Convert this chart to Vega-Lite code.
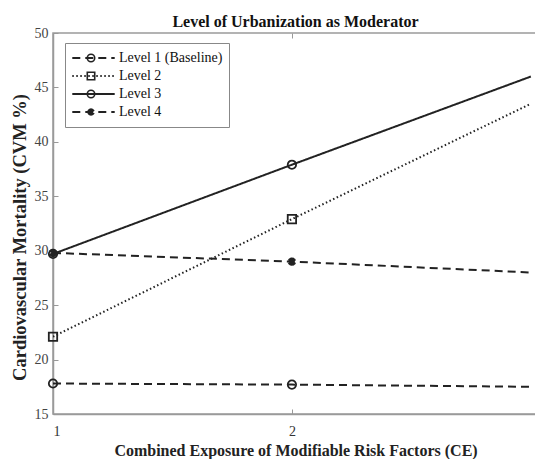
{
  "$schema": "https://vega.github.io/schema/vega-lite/v6.json",
  "width": 485,
  "height": 381,
  "autosize": "none",
  "padding": {"left": 53, "top": 33, "right": 0, "bottom": 45},
  "background": "white",
  "title": {"text": "Level of Urbanization as Moderator", "font": "Liberation Serif", "fontSize": 16, "fontWeight": "bold", "color": "#111", "offset": 2, "dy": 6, "anchor": "middle"},
  "config": {
    "view": {"stroke": "#9a9a9a", "strokeWidth": 1.5},
    "font": "Liberation Serif"
  },
  "data": {"values": [
    {"level": "Level 1 (Baseline)", "ce": 1, "cvm": 17.8},
    {"level": "Level 1 (Baseline)", "ce": 2, "cvm": 17.7},
    {"level": "Level 1 (Baseline)", "ce": 3, "cvm": 17.5},
    {"level": "Level 2", "ce": 1, "cvm": 22.1},
    {"level": "Level 2", "ce": 2, "cvm": 32.9},
    {"level": "Level 2", "ce": 3, "cvm": 43.5},
    {"level": "Level 3", "ce": 1, "cvm": 29.7},
    {"level": "Level 3", "ce": 2, "cvm": 37.9},
    {"level": "Level 3", "ce": 3, "cvm": 46.0},
    {"level": "Level 4", "ce": 1, "cvm": 29.8},
    {"level": "Level 4", "ce": 2, "cvm": 29.0},
    {"level": "Level 4", "ce": 3, "cvm": 28.0}
  ]},
  "resolve": {"axis": {"x": "independent"}},
  "layer": [
    {
      "mark": {"type": "line", "strokeWidth": 2, "color": "#222", "clip": true},
      "encoding": {
        "x": {"field": "ce", "type": "quantitative", "scale": {"domain": [1, 3.03], "nice": false},
          "axis": {"orient": "bottom", "values": [1, 2], "format": "d", "tickSize": -5, "tickColor": "#999", "domainColor": "#9a9a9a", "domainWidth": 1.5, "grid": false,
            "labelFont": "Liberation Serif", "labelFontSize": 14, "labelColor": "#333", "labelPadding": 15,
            "title": "Combined Exposure of Modifiable Risk Factors (CE)", "titleFont": "Liberation Serif", "titleFontSize": 16, "titleFontWeight": "bold", "titleColor": "#222", "titlePadding": 4}},
        "y": {"field": "cvm", "type": "quantitative", "scale": {"domain": [15, 50], "nice": false},
          "axis": {"values": [15, 20, 25, 30, 35, 40, 45, 50], "tickSize": -5, "tickColor": "#999", "domainColor": "#9a9a9a", "domainWidth": 1.5, "grid": false,
            "labelFont": "Liberation Serif", "labelFontSize": 14, "labelColor": "#444", "labelPadding": 10,
            "title": "Cardiovascular Mortality (CVM %)", "titleFont": "Liberation Serif", "titleFontSize": 18.5, "titleFontWeight": "bold", "titleColor": "#222", "titlePadding": 5, "titleY": 204}},
        "strokeDash": {"field": "level", "type": "nominal",
          "scale": {"domain": ["Level 1 (Baseline)", "Level 2", "Level 3", "Level 4"], "range": [[8, 5], [1.5, 2.5], [1, 0], [8, 5]]},
          "legend": {"orient": "none", "legendX": 12, "legendY": 10, "title": null, "symbolType": "stroke", "symbolSize": 1800, "symbolStrokeWidth": 2, "symbolStrokeColor": "#222",
            "labelFont": "Liberation Serif", "labelFontSize": 14, "labelColor": "#111", "rowPadding": 0, "clipHeight": 18, "labelOffset": 3,
            "padding": 6, "strokeColor": "#888", "fillColor": null}}
      }
    },
    {
      "transform": [{"filter": "datum.ce < 3"}],
      "mark": {"type": "point", "filled": false, "size": 70, "strokeWidth": 1.8, "color": "#222", "opacity": 1},
      "encoding": {
        "x": {"field": "ce", "type": "quantitative",
          "axis": {"orient": "top", "values": [1, 2], "labels": false, "title": null, "tickSize": -5, "tickColor": "#999", "domain": false, "grid": false}},
        "y": {"field": "cvm", "type": "quantitative"},
        "shape": {"field": "level", "type": "nominal",
          "scale": {"range": ["circle", "square", "circle", "M0,-1L0,1M-0.87,-0.5L0.87,0.5M-0.87,0.5L0.87,-0.5M-0.5,-0.87L0.5,0.87M-0.5,0.87L0.5,-0.87"]},
          "legend": {"orient": "none", "legendX": 12, "legendY": 10, "title": null, "symbolStrokeColor": "#222", "symbolStrokeWidth": 1.6, "symbolFillColor": "white", "symbolSize": 55, "symbolOffset": 13,
            "labelExpr": "''", "labelFontSize": 14, "rowPadding": 0, "clipHeight": 18, "padding": 6}}
      }
    }
  ]
}
